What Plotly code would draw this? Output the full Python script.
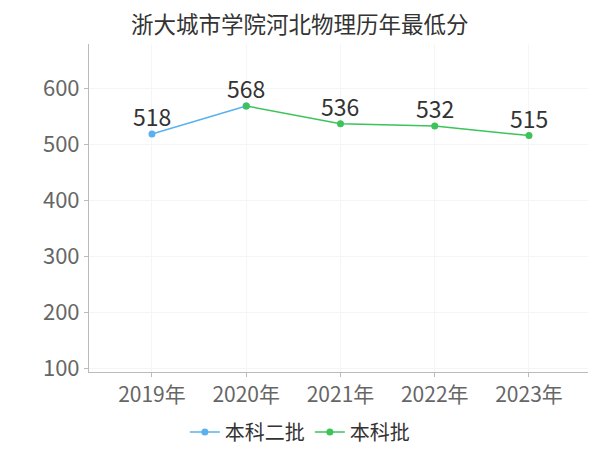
import plotly.graph_objects as go

years = ["2019年", "2020年", "2021年", "2022年", "2023年"]
s1_name = "本科二批"
s1_x = ["2019年", "2020年"]
s1_y = [518, 568]
s1_labels = ["518", ""]
s2_name = "本科批"
s2_x = ["2020年", "2021年", "2022年", "2023年"]
s2_y = [568, 536, 532, 515]
s2_labels = ["568", "536", "532", "515"]
y_ticks = [100, 200, 300, 400, 500, 600]

font = "Noto Sans CJK SC, Microsoft YaHei, sans-serif"
fig = go.Figure()
fig.add_trace(go.Scatter(x=s1_x, y=s1_y, name=s1_name, mode="lines+markers",
                         line=dict(color="#5AB1EF", width=1.5),
                         marker=dict(size=7, color="#5AB1EF")))
fig.add_trace(go.Scatter(x=s2_x, y=s2_y, name=s2_name, mode="lines+markers",
                         line=dict(color="#3CC35A", width=1.5),
                         marker=dict(size=7, color="#3CC35A")))
for xs, ys, labels in [(s1_x, s1_y, s1_labels), (s2_x, s2_y, s2_labels)]:
    for xv, yv, t in zip(xs, ys, labels):
        if t:
            fig.add_annotation(x=xv, y=yv, text=t, showarrow=False,
                               xanchor="center", yanchor="bottom", yshift=-1,
                               font=dict(size=23, color="#333333"))
fig.update_layout(
    width=592, height=442,
    margin=dict(l=81, r=12, t=36, b=78),
    paper_bgcolor="white", plot_bgcolor="white",
    font=dict(family=font, color="#666666"),
    title=dict(text="浙大城市学院河北物理历年最低分", xref="container", x=0.493,
               xanchor="center", yref="container", y=0.962, yanchor="middle",
               font=dict(size=22.5, color="#333333")),
    showlegend=True,
    legend=dict(orientation="h", xref="container", x=0.493, xanchor="center",
                yref="container", y=0.041, yanchor="middle",
                font=dict(size=20, color="#333333"), itemwidth=30, tracegroupgap=0),
    xaxis=dict(type="category", categoryarray=years, categoryorder="array",
               range=[-0.668, 4.626], showline=True, linecolor="#bbbbbb",
               ticks="outside", ticklen=4, tickcolor="#bbbbbb", automargin=False,
               showgrid=True, gridcolor="#f5f5f5",
               tickfont=dict(size=21, color="#666666")),
    yaxis=dict(range=[92.9, 678.6], tickvals=y_ticks, showline=True,
               linecolor="#bbbbbb", ticks="outside", ticklen=4, tickcolor="#bbbbbb",
               showgrid=True, gridcolor="#f5f5f5", zeroline=False, automargin=False,
               tickfont=dict(size=22, color="#666666")),
)
fig.write_html("out.html")
